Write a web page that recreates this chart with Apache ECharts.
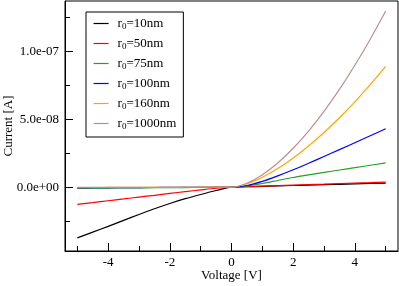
<!DOCTYPE html>
<html>
<head>
<meta charset="utf-8">
<script src="https://cdn.jsdelivr.net/npm/echarts@6/dist/echarts.min.js"></script>
<style>html,body{margin:0;padding:0;background:#fff;}#c{width:399px;height:286px;}</style>
</head>
<body>
<div id="c"></div>
<script>
// Voltage [V]
var voltage = [-5,-4.5,-4,-3.5,-3,-2.5,-2,-1.5,-1,-0.5,0,0.5,1,1.5,2,2.5,3,3.5,4,4.5,5];
// Current in units of 1e-8 A
var r10   = [-3.73,-3.31,-2.89,-2.45,-2.01,-1.59,-1.20,-0.85,-0.54,-0.25,0,0.03,0.06,0.09,0.12,0.15,0.18,0.21,0.24,0.27,0.30];
var r50   = [-1.27,-1.14,-1.00,-0.87,-0.73,-0.60,-0.46,-0.33,-0.20,-0.08,0,0.04,0.08,0.11,0.15,0.19,0.22,0.26,0.30,0.33,0.37];
var r75   = [-0.09,-0.08,-0.07,-0.06,-0.05,-0.045,-0.035,-0.03,-0.02,-0.01,0,0.08,0.27,0.49,0.71,0.90,1.08,1.26,1.43,1.61,1.78];
var r100  = [-0.05,-0.045,-0.04,-0.035,-0.03,-0.025,-0.02,-0.015,-0.01,-0.005,0,0.12,0.42,0.83,1.28,1.76,2.26,2.76,3.27,3.78,4.30];
var r160  = [-0.03,-0.027,-0.024,-0.021,-0.018,-0.015,-0.012,-0.009,-0.006,-0.003,0,0.25,0.73,1.37,2.15,3.03,4.02,5.11,6.28,7.54,8.88];
var r1000 = [-0.02,-0.018,-0.016,-0.014,-0.012,-0.01,-0.008,-0.006,-0.004,-0.002,0,0.29,0.91,1.78,2.86,4.13,5.58,7.19,8.97,10.89,12.96];

var seriesNames = ['10nm','50nm','75nm','100nm','160nm','1000nm'];
var seriesData = [r10, r50, r75, r100, r160, r1000];
var colors = ['#000000','#ff0000','#22a022','#0000ff','#ffa500','#bc8f8f'];

var xMajorTicks = [-4,-2,0,2,4];
var xMinorTicks = [-5,-3,-1,1,3,5];
var yMajorTicks = [0,5,10];
var yMinorTicks = [-2.5,2.5,7.5,12.5];
var yTickLabels = ['0.0e+00','5.0e-08','1.0e-07'];
var xRange = [-5.4, 5.4];
var yRange = [-4.7, 13.7];

var font = 'Liberation Serif';
var chart = echarts.init(document.getElementById('c'), null, {renderer:'canvas'});

function pairs(ys){ return voltage.map(function(v,i){ return [v, ys[i]]; }); }

var option = {
  animation: false,
  backgroundColor: '#fff',
  grid: {left: 65, right: 1, top: 1, bottom: 35, show: true, borderColor: '#000', borderWidth: 1,
         containLabel: false, outerBoundsMode: 'none'},
  legend: {
    orient: 'vertical', left: 86, top: 12,
    padding: [5, 7, 6, 7], itemGap: 6, itemWidth: 15, itemHeight: 14,
    borderColor: '#000', borderWidth: 1, backgroundColor: '#fff',
    itemStyle: {opacity: 0},
    lineStyle: {width: 1.2},
    data: seriesNames.map(function(n){ return 'r0=' + n; }),
    formatter: function(name){ return '{a|r}{s|0}{a|' + name.slice(2) + '}'; },
    textStyle: {
      fontFamily: font, fontSize: 13, color: '#000', padding: [0,0,0,4],
      rich: {
        a: {fontFamily: font, fontSize: 13, color: '#000'},
        s: {fontFamily: font, fontSize: 9, color: '#000', verticalAlign: 'bottom', padding: [6,0,0,0]}
      }
    }
  },
  xAxis: [{
    type: 'value', min: xRange[0], max: xRange[1], position: 'bottom',
    name: 'Voltage [V]', nameLocation: 'middle', nameGap: 18, nameMoveOverlap: false,
    nameTextStyle: {fontFamily: font, fontSize: 13, color: '#000'},
    axisLine: {show: true, onZero: false, lineStyle: {color: '#000', width: 1}},
    axisTick: {show: true, inside: true, length: 8, customValues: xMajorTicks, lineStyle: {color: '#000'}},
    axisLabel: {show: true, margin: 5, customValues: xMajorTicks, fontFamily: font, fontSize: 13, color: '#000'},
    splitLine: {show: false}
  }, {
    type: 'value', min: xRange[0], max: xRange[1], position: 'bottom', offset: 0,
    axisLine: {show: false, onZero: false},
    axisTick: {show: true, inside: true, length: 5, customValues: xMinorTicks, lineStyle: {color: '#000'}},
    axisLabel: {show: false},
    splitLine: {show: false}
  }],
  yAxis: [{
    type: 'value', min: yRange[0], max: yRange[1], position: 'left',
    name: 'Current [A]', nameLocation: 'middle', nameGap: 50, nameMoveOverlap: false,
    nameTextStyle: {fontFamily: font, fontSize: 13, color: '#000'},
    axisLine: {show: true, onZero: false, lineStyle: {color: '#000', width: 1}},
    axisTick: {show: true, inside: true, length: 8, customValues: yMajorTicks, lineStyle: {color: '#000'}},
    axisLabel: {show: true, margin: 6, customValues: yMajorTicks, fontFamily: font, fontSize: 13, color: '#000',
      formatter: function(v){ var i = yMajorTicks.indexOf(v); return i >= 0 ? yTickLabels[i] : ''; }},
    splitLine: {show: false}
  }, {
    type: 'value', min: yRange[0], max: yRange[1], position: 'left', offset: 0,
    axisLine: {show: false, onZero: false},
    axisTick: {show: true, inside: true, length: 5, customValues: yMinorTicks, lineStyle: {color: '#000'}},
    axisLabel: {show: false},
    splitLine: {show: false}
  }],
  series: seriesData.map(function(d, i){
    return {
      name: 'r0=' + seriesNames[i], type: 'line', xAxisIndex: 0, yAxisIndex: 0,
      data: pairs(d), smooth: 0.3, symbol: 'none',
      lineStyle: {color: colors[i], width: 1.2}, itemStyle: {color: colors[i]}
    };
  })
};
chart.setOption(option);
</script>
</body>
</html>
